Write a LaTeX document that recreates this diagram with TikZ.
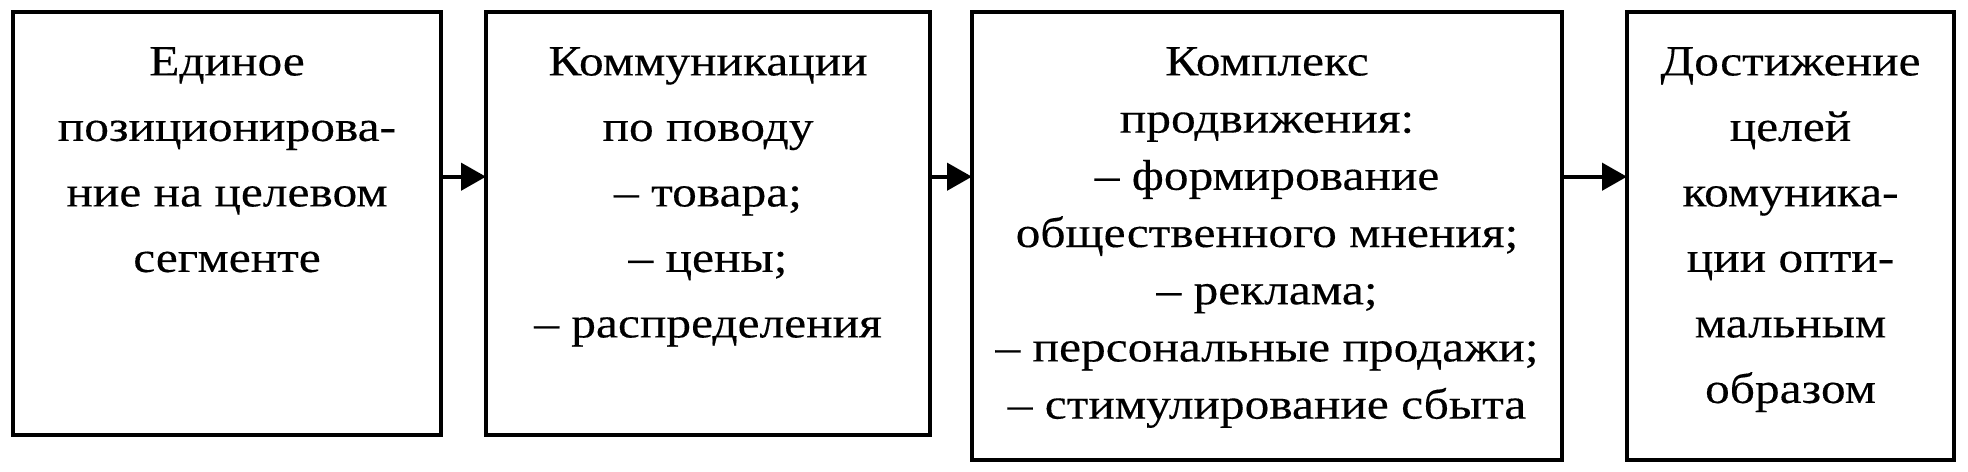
\documentclass[tikz,border=0pt]{standalone}
\usepackage{fontspec}
\setmainfont{Liberation Serif}[FakeStretch=1.15,FakeBold=0.3]
\usetikzlibrary{arrows.meta}
\begin{document}
\begin{tikzpicture}[x=0.5pt,y=-0.5pt,
  box/.style={draw, line width=2pt, rectangle, outer sep=0pt, inner sep=0pt, anchor=north west},
  txt/.style={align=center, inner sep=0pt, anchor=north, font={\fontsize{21.5pt}{32.75pt}\selectfont}},
  txtb/.style={txt, font={\fontsize{21.5pt}{28.6pt}\selectfont}},
  arr/.style={line width=2.2pt, -{Triangle[length=12.5pt,width=13.5pt]}}]
\useasboundingbox (0,0) rectangle (1968,471);
\node[box, minimum width=214pt, minimum height=211.25pt] (b1) at (13,12) {};
\node[box, minimum width=222pt, minimum height=211.25pt] (b2) at (486,12) {};
\node[box, minimum width=295pt, minimum height=224pt] (b3) at (972,12) {};
\node[box, minimum width=163.5pt, minimum height=224pt] (b4) at (1627,12) {};
\node[txt] (t1) at ([yshift=-15.5pt]b1.north) {\rule{0pt}{16pt}Единое\\позиционирова-\\ние на целевом\\сегменте};
\node[txt] (t2) at ([yshift=-15.5pt]b2.north) {\rule{0pt}{16pt}Коммуникации\\по поводу\\– товара;\\– цены;\\– распределения};
\node[txtb] (t3) at ([yshift=-15.5pt]b3.north) {\rule{0pt}{16pt}Комплекс\\продвижения:\\– формирование\\общественного мнения;\\– реклама;\\– персональные продажи;\\– стимулирование сбыта};
\node[txt] (t4) at ([yshift=-15.5pt]b4.north) {\rule{0pt}{16pt}Достижение\\целей\\комуника-\\ции опти-\\мальным\\образом};
\draw[arr] ([yshift=-82.35pt]b1.north east) -- ([yshift=-82.35pt]b2.north west);
\draw[arr] ([yshift=-82.35pt]b2.north east) -- ([yshift=-82.35pt]b3.north west);
\draw[arr] ([yshift=-82.35pt]b3.north east) -- ([yshift=-82.35pt]b4.north west);
\end{tikzpicture}
\end{document}
